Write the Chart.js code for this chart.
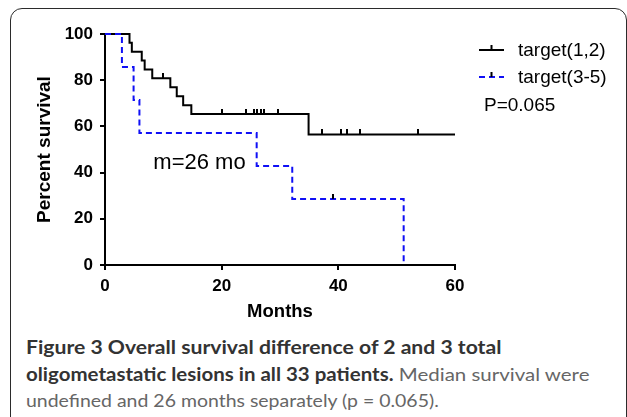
<!DOCTYPE html>
<html>
<head>
<meta charset="utf-8">
<script src="https://cdn.jsdelivr.net/npm/chart.js@4.4.0/dist/chart.umd.min.js"></script>
<style>
    body { margin: 0; background: #fff; width: 627px; height: 417px; overflow: hidden; position: relative; }
    #frame { position: absolute; left: 10px; top: 8px; width: 617px; height: 440px; border: 1.5px solid #2b2b2b; border-radius: 12px; box-sizing: border-box; }
    #chart { position: absolute; left: 0; top: 0; }
    .cap { position: absolute; left: 26px; white-space: nowrap; font-family: Lato, "Open Sans", sans-serif; font-size: 18px; line-height: 20px; color: #666; transform-origin: 0 50%; }
    .cap b { color: #333; font-weight: 700; }
</style>
</head>
<body>
<div id="frame"></div>
<canvas id="chart" width="627" height="330"></canvas>
<div class="cap" data-w="476" style="top:337px"><b>Figure 3 Overall survival difference of 2 and 3 total</b></div>
<div class="cap" data-w="564" style="top:364px"><b>oligometastatic lesions in all 33 patients.</b> Median survival were</div>
<div class="cap" data-w="413" style="top:390px">undefined and 26 months separately (p = 0.065).</div>

<script>
// --- DATA ---
const xTicks = [0, 20, 40, 60];
const yTicks = [0, 20, 40, 60, 80, 100];

// target(1,2): time in months, percent survival, censored flag
const g1Months   = [0, 4.2, 4.6, 6.3, 6.8, 8.1, 10.0, 11.2, 12.3, 13.4, 14.8, 20.0, 24.2, 25.6, 26.1, 26.8, 27.3, 29.7, 34.9, 37.2, 40.5, 41.5, 43.7, 53.7, 60];
const g1Survival = [100, 96.2, 92.3, 88.5, 84.6, 80.8, 80.8, 76.9, 73.1, 69.2, 65.4, 65.4, 65.4, 65.4, 65.4, 65.4, 65.4, 65.4, 56.5, 56.5, 56.5, 56.5, 56.5, 56.5, 56.5];
const g1Censored = [0, 0, 0, 0, 0, 0, 1, 0, 0, 0, 0, 1, 1, 1, 1, 1, 1, 1, 0, 1, 1, 1, 1, 1, 0];

// target(3-5)
const g2Months   = [0, 2.9, 4.9, 5.9, 26.0, 32.1, 39.0, 51.2];
const g2Survival = [100, 85.7, 71.4, 57.1, 42.9, 28.6, 28.6, 0];
const g2Censored = [0, 0, 0, 0, 0, 0, 1, 0];

const seriesLabels = ['target(1,2)', 'target(3-5)'];
const pValueText = 'P=0.065';
const medianText = 'm=26 mo';
const medianAnchor = { x: 16.2, y: 44.2 };

const FONT = '"Liberation Sans", Arial, sans-serif';
const BLUE = '#1010f5';

// small upward tick used as censor mark
function makeTick(color) {
    const c = document.createElement('canvas');
    c.width = 2; c.height = 10;
    const g = c.getContext('2d');
    g.fillStyle = color;
    g.fillRect(0, 0, 2, 5);
    return c;
}
const tickMark = makeTick('#000');

function toPoints(xs, ys) {
    return xs.map((x, i) => ({ x: x, y: ys[i] }));
}

// legend, p value and median label
const overlayPlugin = {
    id: 'overlay',
    afterDatasetsDraw(chart) {
        const ctx = chart.ctx;
        const area = chart.chartArea;
        ctx.save();
        ctx.font = '19px ' + FONT;
        ctx.textBaseline = 'middle';
        ctx.fillStyle = '#000';
        chart.data.datasets.forEach((ds, i) => {
            const y = 50 + i * 27;
            const x0 = area.right + 24, x1 = area.right + 49;
            ctx.strokeStyle = ds.borderColor;
            ctx.lineWidth = 2;
            ctx.setLineDash(ds.borderDash || []);
            ctx.beginPath();
            ctx.moveTo(x0, y);
            ctx.lineTo(x1, y);
            ctx.stroke();
            ctx.setLineDash([]);
            ctx.fillStyle = '#000';
            ctx.fillRect((x0 + x1) / 2 - 1, y - 5, 2, 5);
            ctx.textAlign = 'left';
            ctx.fillText(ds.label, area.right + 63, y + 1);
        });
        ctx.fillText(pValueText, area.right + 29, 106);

        ctx.font = '22px ' + FONT;
        ctx.textAlign = 'center';
        ctx.fillText(medianText,
            chart.scales.x.getPixelForValue(medianAnchor.x),
            chart.scales.y.getPixelForValue(medianAnchor.y));
        ctx.restore();
    }
};

new Chart(document.getElementById('chart'), {
    type: 'line',
    data: {
        datasets: [
            {
                label: seriesLabels[0],
                data: toPoints(g1Months, g1Survival),
                borderColor: '#000',
                borderWidth: 2,
                stepped: 'before',
                pointStyle: tickMark,
                pointRadius: c => g1Censored[c.dataIndex] ? 3 : 0,
                order: 1,
                clip: false
            },
            {
                label: seriesLabels[1],
                data: toPoints(g2Months, g2Survival),
                borderColor: BLUE,
                borderWidth: 2,
                borderDash: [6, 4],
                stepped: 'before',
                pointStyle: tickMark,
                pointRadius: c => g2Censored[c.dataIndex] ? 3 : 0,
                order: 0,
                clip: false
            }
        ]
    },
    options: {
        responsive: false,
        animation: false,
        events: [],
        layout: { padding: { left: 29, top: 34, right: 172, bottom: 3 } },
        plugins: { legend: { display: false }, tooltip: { enabled: false } },
        scales: {
            x: {
                type: 'linear',
                min: 0, max: 60,
                afterFit: s => { s.height = 62; },
                afterBuildTicks: s => { s.ticks = xTicks.map(v => ({ value: v })); },
                border: { color: '#000', width: 2 },
                grid: { drawOnChartArea: false, drawTicks: true, tickLength: 5, color: '#000', lineWidth: 2 },
                ticks: { color: '#000', padding: 6, font: { family: FONT, size: 17, weight: 'bold' } },
                title: { display: true, text: 'Months', color: '#000', font: { family: FONT, size: 18.5, weight: 'bold' } }
            },
            y: {
                min: 0, max: 100,
                afterFit: s => { s.width = 76; },
                afterBuildTicks: s => { s.ticks = yTicks.map(v => ({ value: v })); },
                border: { color: '#000', width: 2 },
                grid: { drawOnChartArea: false, drawTicks: true, tickLength: 5, color: '#000', lineWidth: 2 },
                ticks: { color: '#000', padding: 7, font: { family: FONT, size: 17, weight: 'bold' } },
                title: { display: true, text: 'Percent survival', color: '#000', font: { family: FONT, size: 19, weight: 'bold' } }
            }
        }
    },
    plugins: [overlayPlugin]
});

// squeeze caption lines to the widths seen in the figure
document.fonts.ready.then(() => {
    document.querySelectorAll('.cap').forEach(el => {
        const w = +el.dataset.w;
        el.style.transform = 'scaleX(' + (w / el.offsetWidth) + ')';
    });
});
</script>
</body>
</html>
